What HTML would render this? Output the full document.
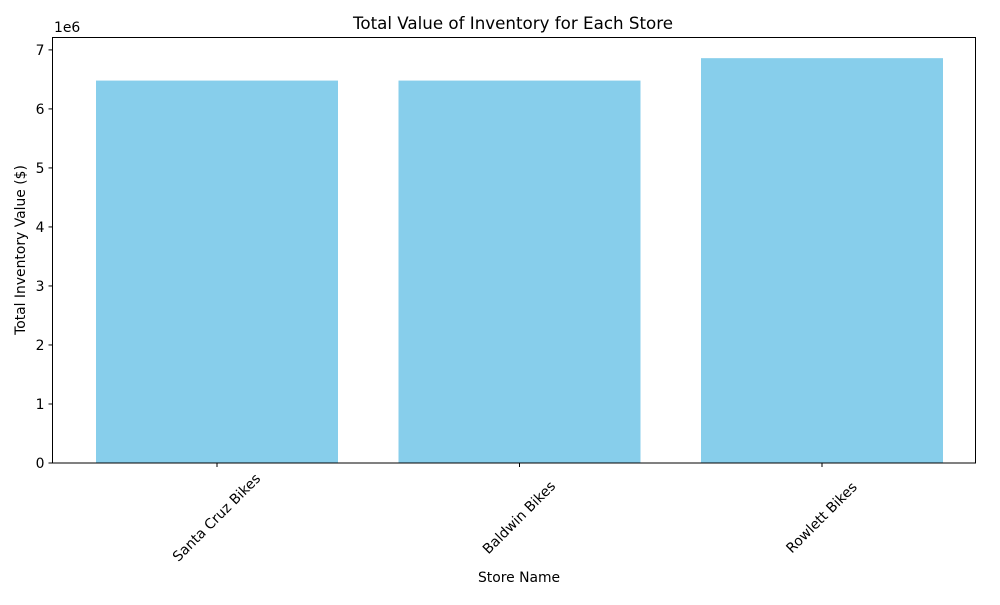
<!DOCTYPE html>
<html><head><meta charset="utf-8"><style>
body{margin:0;background:#fff;font-family:"Liberation Sans","DejaVu Sans",sans-serif;}
text{font-family:"DejaVu Sans","Liberation Sans",sans-serif;}
</style></head><body>
<svg id="chart" width="1000" height="600" xmlns="http://www.w3.org/2000/svg">
<text x="513" y="29" font-size="16.7" text-anchor="middle">Total Value of Inventory for Each Store</text>
<g id="bars"></g>
<g id="yticks"></g>
<g id="xticks"></g>
<rect x="52.5" y="37.5" width="923" height="425.5" fill="none" stroke="#000" stroke-width="1"/>
<text x="54" y="32" font-size="13.9">1e6</text>
<text x="519" y="582" font-size="13.9" text-anchor="middle">Store Name</text>
<text transform="translate(25,250) rotate(-90)" font-size="13.9" text-anchor="middle">Total Inventory Value ($)</text>
</svg>
<script>
const categories=["Santa Cruz Bikes","Baldwin Bikes","Rowlett Bikes"];
const values=[6.48,6.48,6.86];
const yTicks=[0,1,2,3,4,5,6,7];
const NS="http://www.w3.org/2000/svg";
const x0=52.5,yb=463,yt=37.5,yMax=7.21;
const step=302.5;
function xs(i){return 217+i*step;}
function ys(v){return yb-v/yMax*(yb-yt);}
const bw=0.8*step;
const bars=document.getElementById('bars'),yt_=document.getElementById('yticks'),xt=document.getElementById('xticks');
categories.forEach((c,i)=>{
 const r=document.createElementNS(NS,'rect');
 
 
 r.setAttribute('x',xs(i)-bw/2);r.setAttribute('width',bw);
 r.setAttribute('y',ys(values[i]));r.setAttribute('height',yb-ys(values[i]));
 r.setAttribute('fill','#87ceeb');bars.appendChild(r);
 const l=document.createElementNS(NS,'line');
 
 
 l.setAttribute('x1',xs(i));l.setAttribute('x2',xs(i));l.setAttribute('y1',yb);l.setAttribute('y2',yb+4);l.setAttribute('stroke','#000');xt.appendChild(l);
 const t=document.createElementNS(NS,'text');
 
 
 t.setAttribute('font-size','13.9');t.setAttribute('text-anchor','middle');t.setAttribute('dominant-baseline','central');
 t.setAttribute('transform','translate('+xs(i)+',518) rotate(-45)');
 t.textContent=c;xt.appendChild(t);
});
yTicks.forEach(v=>{
 const l=document.createElementNS(NS,'line');
 
 
 l.setAttribute('x1',x0-4);l.setAttribute('x2',x0);l.setAttribute('y1',ys(v));l.setAttribute('y2',ys(v));l.setAttribute('stroke','#000');yt_.appendChild(l);
 const t=document.createElementNS(NS,'text');
 
 
 t.setAttribute('font-size','13.9');t.setAttribute('text-anchor','end');
 t.setAttribute('x',x0-8);t.setAttribute('y',ys(v)+5);t.textContent=v;yt_.appendChild(t);
});
</script>
</body></html>
